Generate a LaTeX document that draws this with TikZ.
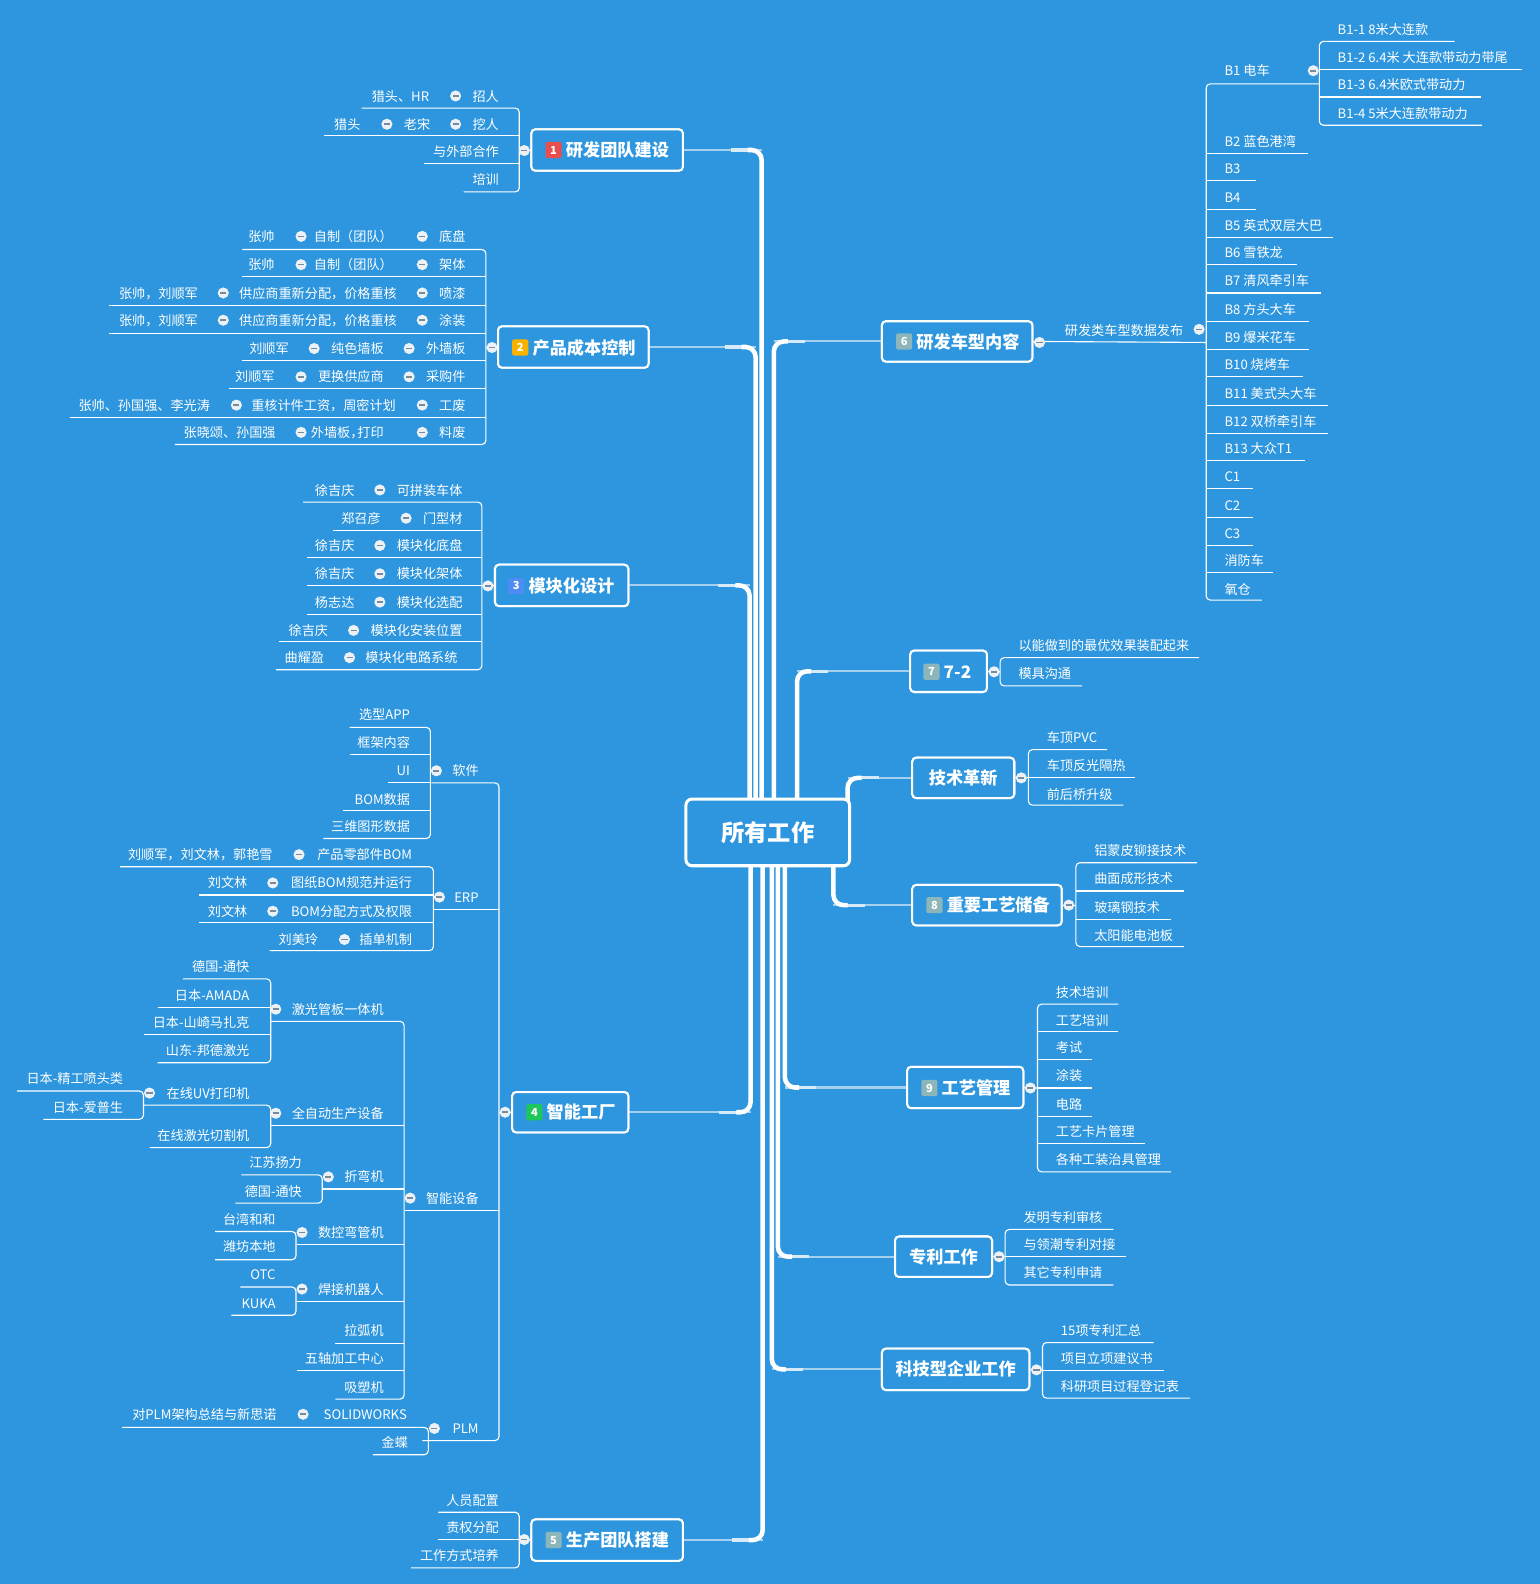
\documentclass[tikz,border=0pt]{standalone}
\usepackage{fontspec}
\setmainfont{Noto Sans CJK SC}
\usetikzlibrary{calc}
\definecolor{bg}{RGB}{46,150,222}
\definecolor{connlight}{RGB}{165,208,240}
\definecolor{clfill}{RGB}{236,241,246}
\definecolor{clminus}{RGB}{120,138,158}
\definecolor{bred}{RGB}{233,78,78}
\definecolor{borange}{RGB}{249,178,0}
\definecolor{bblue}{RGB}{77,140,245}
\definecolor{bgreen}{RGB}{31,199,90}
\definecolor{bgray}{RGB}{141,182,186}
\newcommand\leaffont{\fontsize{13}{15}\selectfont}
\newcommand\mainsz{\fontsize{17}{20}\selectfont\bfseries}
\newcommand\badgefont{\fontsize{11}{12}\selectfont\bfseries}
\newcounter{nd}
\newcommand\Ltx[3]{\stepcounter{nd}\node[lt] (t\arabic{nd}) at (#1,#2) {#3};}
\newcommand\Rtx[3]{\stepcounter{nd}\node[rt] (t\arabic{nd}) at (#1,#2) {#3};}
\newcommand\Col[2]{\stepcounter{nd}\node[clp] (c\arabic{nd}) at (#1,#2) {};}
\newcommand\Uln[3]{\draw[ul] (#1,#3) -- (#2,#3);}
\newcommand\Spn[5]{\draw[ul,rounded corners=4pt] (#1,#3) -- (#2,#3) -- (#2,#4) -- (#5,#4);}
\newcommand\mconn[3]{\draw[cthin] (#1) -- (#2 |- #1);
  \draw[cmid] ($(#2 |- #1)+(2.2*#3,0)$) -- ($(#2 |- #1)+(0.8*#3,0)$);
  \draw[cthick] ($(#2 |- #1)+(#3,0)$) -| (#2);}
\tikzset{
 lt/.style={anchor=east, inner sep=0pt, text height=11.5pt, text depth=1.5pt, font=\leaffont, text=white},
 rt/.style={lt, anchor=west},
 ul/.style={draw=white, line width=1.1pt},
 clp/.style={circle, fill=clfill, minimum size=11pt, inner sep=0pt,
   path picture={\draw[draw=clminus, line width=1.6pt] ([xshift=-3pt]path picture bounding box.center) -- ([xshift=3pt]path picture bounding box.center);}},
 mbox/.style={draw=white, line width=2pt, rounded corners=4pt, fill=bg, inner sep=0pt},
 mtext/.style={anchor=west, inner sep=0pt, font=\mainsz, text=white},
 ctext/.style={inner sep=0pt, font=\mainsz, text=white},
 badge/.style={rounded corners=2pt, minimum size=16pt, inner sep=0pt, text=white, font=\badgefont},
 cthin/.style={draw=connlight, line width=2pt},
 cmid/.style={draw=white!55!connlight, line width=3.2pt},
 cthick/.style={draw=white, line width=4.5pt, rounded corners=10pt},
}
\begin{document}
\begin{tikzpicture}[x=1pt,y=-1pt]
\fill[bg] (0,0) rectangle (1524,1568);
\useasboundingbox (0,0) rectangle (1524,1568);

% ---------- vertical anchors of main connectors ----------
\coordinate (v1) at (754,791);
\coordinate (v2) at (748,791);
\coordinate (v3) at (742,791);
\coordinate (v4) at (743,857);
\coordinate (v5) at (755,857);
\coordinate (v6) at (766,791);
\coordinate (v7) at (789,791);
\coordinate (vt) at (839,800);
\coordinate (v8) at (825,857);
\coordinate (v9) at (777,857);
\coordinate (vp) at (770,857);
\coordinate (vk) at (764,857);

% ---------- main boxes ----------
\node[mbox, minimum width=150pt, minimum height=41pt] (n1) at (601,148.5) {};
\node[mbox, minimum width=149pt, minimum height=41pt] (n2) at (567.5,343.5) {};
\node[mbox, minimum width=132pt, minimum height=41pt] (n3) at (556,579.5) {};
\node[mbox, minimum width=115pt, minimum height=40pt] (n4) at (564.5,1101) {};
\node[mbox, minimum width=150pt, minimum height=41pt] (n5) at (601,1524.5) {};
\node[mbox, minimum width=149pt, minimum height=40pt] (n6) at (947.5,338) {};
\node[mbox, minimum width=76pt, minimum height=41pt] (n7) at (939,664.5) {};
\node[mbox, minimum width=101pt, minimum height=40pt] (nt) at (953.5,770) {};
\node[mbox, minimum width=148pt, minimum height=40pt] (n8) at (977,896) {};
\node[mbox, minimum width=115pt, minimum height=41pt] (n9) at (955.5,1076.5) {};
\node[mbox, minimum width=96pt, minimum height=40pt] (np) at (934,1244) {};
\node[mbox, minimum width=146pt, minimum height=41pt] (nk) at (946,1355.5) {};

% ---------- main connectors ----------
\mconn{n1.east}{v1}{-14}
\mconn{n2.east}{v2}{-14}
\mconn{n3.east}{v3}{-14}
\mconn{n4.east}{v4}{-14}
\mconn{n5.east}{v5}{-14}
\mconn{n6.west}{v6}{14}
\mconn{n7.west}{v7}{14}
\mconn{nt.west}{vt}{14}
\mconn{n8.west}{v8}{14}
\mconn{n9.west}{v9}{14}
\mconn{np.west}{vp}{14}
\mconn{nk.west}{vk}{14}

% redraw main boxes on top
\node[mbox, minimum width=150pt, minimum height=41pt] at (n1) {};
\node[mbox, minimum width=149pt, minimum height=41pt] at (n2) {};
\node[mbox, minimum width=132pt, minimum height=41pt] at (n3) {};
\node[mbox, minimum width=115pt, minimum height=40pt] at (n4) {};
\node[mbox, minimum width=150pt, minimum height=41pt] at (n5) {};
\node[mbox, minimum width=149pt, minimum height=40pt] at (n6) {};
\node[mbox, minimum width=76pt, minimum height=41pt] at (n7) {};
\node[mbox, minimum width=101pt, minimum height=40pt] at (nt) {};
\node[mbox, minimum width=148pt, minimum height=40pt] at (n8) {};
\node[mbox, minimum width=115pt, minimum height=41pt] at (n9) {};
\node[mbox, minimum width=96pt, minimum height=40pt] at (np) {};
\node[mbox, minimum width=146pt, minimum height=41pt] at (nk) {};

% central node
\node[draw=white, line width=3pt, rounded corners=6pt, fill=bg, minimum width=162pt, minimum height=66pt, inner sep=0pt, font=\fontsize{23}{26}\selectfont\bfseries, text=white] (cen) at (760,824) {所有工作};

% badges and main texts
\node[badge, fill=bred] (b1) at (548,148.5) {1};
\node[mtext] (m1) at (560,148.5) {研发团队建设};
\node[badge, fill=borange] (b2) at (515,344) {2};
\node[mtext] (m2) at (527,344) {产品成本控制};
\node[badge, fill=bblue] (b3) at (511,580) {3};
\node[mtext] (m3) at (523,580) {模块化设计};
\node[badge, fill=bgreen] (b4) at (529,1101) {4};
\node[mtext] (m4) at (541,1101) {智能工厂};
\node[badge, fill=bgray] (b5) at (548,1524.5) {5};
\node[mtext] (m5) at (560,1524.5) {生产团队搭建};
\node[badge, fill=bgray] (b6) at (895,338) {6};
\node[mtext] (m6) at (907,338) {研发车型内容};
\node[badge, fill=bgray] (b7) at (922,665) {7};
\node[mtext] (m7) at (934,665) {7-2};
\node[ctext] (mt) at (nt) {技术革新};
\node[badge, fill=bgray] (b8) at (925,896) {8};
\node[mtext] (m8) at (937,896) {重要工艺储备};
\node[badge, fill=bgray] (b9) at (920,1077) {9};
\node[mtext] (m9) at (932,1077) {工艺管理};
\node[ctext] (mp) at (np) {专利工作};
\node[ctext] (mk) at (nk) {科技型企业工作};

% ================= LEFT: 1 =================
\Spn{358}{514}{107}{190}{459}
\Uln{321}{514}{134}
\Uln{420}{514}{162}
\draw[ul] (514,149) -- (n1.west);
\Ltx{425}{95}{猎头、HR} \Col{451}{95} \Ltx{494}{95}{招人}
\Ltx{357}{123}{猎头} \Col{383}{123} \Ltx{426}{123}{老宋} \Col{451}{123} \Ltx{494}{123}{挖人}
\Ltx{494}{150}{与外部合作}
\Ltx{494}{178}{培训}
\Col{519}{149}

% ================= LEFT: 2 =================
\Spn{240}{481}{247}{440}{173}
\Uln{240}{481}{274}
\Uln{108}{481}{302}
\Uln{108}{481}{330}
\Uln{240}{481}{357}
\Uln{227}{481}{385}
\Uln{69}{481}{413}
\draw[ul] (481,344) -- (n2.west);
\Ltx{272}{234}{张帅} \Col{298}{234} \Ltx{389}{234}{自制（团队）} \Col{418}{234} \Ltx{461}{234}{底盘}
\Ltx{272}{262}{张帅} \Col{298}{262} \Ltx{389}{262}{自制（团队）} \Col{418}{262} \Ltx{461}{262}{架体}
\Ltx{196}{290}{张帅，刘顺军} \Col{221}{290} \Ltx{393}{290}{供应商重新分配，价格重核} \Col{418}{290} \Ltx{461}{290}{喷漆}
\Ltx{196}{317}{张帅，刘顺军} \Col{221}{317} \Ltx{393}{317}{供应商重新分配，价格重核} \Col{418}{317} \Ltx{461}{317}{涂装}
\Ltx{286}{345}{刘顺军} \Col{311}{345} \Ltx{380}{345}{纯色墙板} \Col{405}{345} \Ltx{461}{345}{外墙板}
\Ltx{272}{373}{刘顺军} \Col{298}{373} \Ltx{380}{373}{更换供应商} \Col{405}{373} \Ltx{461}{373}{采购件}
\Ltx{208}{401}{张帅、孙国强、李光涛} \Col{234}{401} \Ltx{392}{401}{重核计件工资，周密计划} \Col{418}{401} \Ltx{461}{401}{工废}
\Ltx{273}{428}{张晓颂、孙国强} \Col{298}{428} \Ltx{380}{428}{外墙板，\kern-6pt 打印} \Col{418}{428} \Ltx{461}{428}{料废}
\Col{487}{344}

% ================= LEFT: 3 =================
\Spn{300}{477}{497}{663}{273}
\Uln{330}{477}{525}
\Uln{304}{477}{552}
\Uln{304}{477}{580}
\Uln{304}{477}{608}
\Uln{276}{477}{635}
\draw[ul] (477,580) -- (n3.west);
\Ltx{351}{485}{徐吉庆} \Col{376}{485} \Ltx{458}{485}{可拼装车体}
\Ltx{377}{513}{郑召彦} \Col{402}{513} \Ltx{458}{513}{门型材}
\Ltx{351}{540}{徐吉庆} \Col{376}{540} \Ltx{458}{540}{模块化底盘}
\Ltx{351}{568}{徐吉庆} \Col{376}{568} \Ltx{458}{568}{模块化架体}
\Ltx{351}{596}{杨志达} \Col{376}{596} \Ltx{458}{596}{模块化选配}
\Ltx{325}{624}{徐吉庆} \Col{350}{624} \Ltx{458}{624}{模块化安装位置}
\Ltx{321}{651}{曲耀盈} \Col{346}{651} \Ltx{453}{651}{模块化电路系统}
\Col{483}{580}

% ================= LEFT: 4 =================
\Spn{427}{494}{775}{1426}{418}
\Uln{430}{494}{900}
\Uln{401}{494}{1198}
\draw[ul] (494,1101) -- (n4.west);
\Ltx{474}{763}{软件} \Ltx{474}{888}{ERP} \Ltx{474}{1186}{智能设备} \Ltx{474}{1414}{PLM}
% software
\Spn{346}{426}{720}{830}{320}
\Uln{346}{426}{747}
\Uln{384}{426}{775}
\Uln{340}{426}{802}
\Ltx{406}{707}{选型APP} \Ltx{406}{735}{框架内容} \Ltx{406}{763}{UI} \Ltx{406}{791}{BOM数据} \Ltx{406}{818}{三维图形数据}
% ERP
\Spn{119}{429}{858}{941}{267}
\Uln{197}{429}{886}
\Uln{197}{429}{913}
\Ltx{270}{846}{刘顺军，刘文林，郭艳雪} \Col{296}{846} \Ltx{408}{846}{产品零部件BOM}
\Ltx{245}{874}{刘文林} \Col{270}{874} \Ltx{408}{874}{图纸BOM规范并运行}
\Ltx{245}{902}{刘文林} \Col{270}{902} \Ltx{408}{902}{BOM分配方式及权限}
\Ltx{315}{930}{刘美玲} \Col{341}{930} \Ltx{408}{930}{插单机制}
% smart equipment
\Spn{268}{400}{1011}{1385}{332}
\Uln{268}{400}{1114}
\Uln{320}{400}{1177}
\Uln{294}{400}{1232}
\Uln{294}{400}{1288}
\Uln{332}{400}{1330}
\Uln{294}{400}{1357}
\Ltx{380}{999}{激光管板一体机}
\Ltx{380}{1102}{全自动生产设备}
\Ltx{380}{1165}{折弯机}
\Ltx{380}{1220}{数控弯管机}
\Ltx{380}{1276}{焊接机器人}
\Ltx{380}{1317}{拉弧机}
\Ltx{380}{1345}{五轴加工中心}
\Ltx{380}{1373}{吸塑机}
% laser
\Spn{181}{268}{969}{1052}{156}
\Uln{156}{268}{997}
\Uln{143}{268}{1024}
\Ltx{247}{957}{德国-通快} \Ltx{247}{985}{日本-AMADA} \Ltx{247}{1012}{日本-山崎马扎克} \Ltx{247}{1040}{山东-邦德激光}
% automatic
\Spn{142}{268}{1094}{1136}{148}
\Ltx{247}{1082}{在线UV打印机} \Ltx{247}{1124}{在线激光切割机}
\Spn{17}{142}{1080}{1108}{43}
\Ltx{122}{1068}{日本-精工喷头类} \Ltx{122}{1096}{日本-爱普生}
% bending
\Spn{239}{319}{1163}{1191}{233}
\Ltx{299}{1151}{江苏扬力} \Ltx{299}{1179}{德国-通快}
\Spn{213}{293}{1219}{1247}{213}
\Ltx{273}{1207}{台湾和和} \Ltx{273}{1234}{潍坊本地}
\Spn{238}{293}{1274}{1302}{229}
\Ltx{273}{1262}{OTC} \Ltx{273}{1290}{KUKA}
% PLM
\Spn{121}{424}{1413}{1440}{369}
\Ltx{274}{1400}{对PLM架构总结与新思诺} \Col{300}{1400} \Ltx{403}{1400}{SOLIDWORKS}
\Ltx{404}{1428}{金蝶}
% collapse circles group 4
\Col{432}{763} \Col{435}{888} \Col{406}{1186} \Col{430}{1414}
\Col{273}{999} \Col{273}{1102} \Col{148}{1082} \Col{325}{1165} \Col{299}{1220} \Col{299}{1276}
\Col{500}{1101}

% ================= LEFT: 5 =================
\Spn{434}{514}{1497}{1552}{407}
\Uln{434}{514}{1524}
\draw[ul] (514,1524) -- (n5.west);
\Ltx{494}{1485}{人员配置} \Ltx{494}{1512}{责权分配} \Ltx{494}{1540}{工作方式培养}
\Col{519}{1524}

% ================= RIGHT: 6 =================
\draw[ul] (n6.east) -- (1194,339);
\Rtx{1054}{327}{研发类车型数据发布}
\Spn{1306}{1194}{83}{594}{1249}
\Uln{1194}{1295}{152}
\Uln{1194}{1243}{179}
\Uln{1194}{1243}{207}
\Uln{1194}{1320}{235}
\Uln{1194}{1284}{262}
\Uln{1194}{1308}{290}
\Uln{1194}{1296}{318}
\Uln{1194}{1296}{346}
\Uln{1194}{1290}{373}
\Uln{1194}{1315}{401}
\Uln{1194}{1315}{429}
\Uln{1194}{1292}{456}
\Uln{1194}{1240}{484}
\Uln{1194}{1240}{512}
\Uln{1194}{1240}{540}
\Uln{1194}{1260}{567}
\Rtx{1212}{70}{B1 电车}
\Rtx{1212}{140}{B2 蓝色港湾}
\Rtx{1212}{167}{B3}
\Rtx{1212}{195}{B4}
\Rtx{1212}{223}{B5 英式双层大巴}
\Rtx{1212}{250}{B6 雪铁龙}
\Rtx{1212}{278}{B7 清风牵引车}
\Rtx{1212}{306}{B8 方头大车}
\Rtx{1212}{334}{B9 爆米花车}
\Rtx{1212}{361}{B10 烧烤车}
\Rtx{1212}{389}{B11 美式头大车}
\Rtx{1212}{417}{B12 双桥牵引车}
\Rtx{1212}{444}{B13 大众T1}
\Rtx{1212}{472}{C1}
\Rtx{1212}{500}{C2}
\Rtx{1212}{528}{C3}
\Rtx{1212}{555}{消防车}
\Rtx{1212}{583}{氧仓}
\Spn{1440}{1306}{41}{124}{1467}
\Uln{1306}{1507}{69}
\Uln{1306}{1466}{96}
\Rtx{1324}{29}{B1-1 8米大连款}
\Rtx{1324}{57}{B1-2 6.4米 大连款带动力带尾}
\Rtx{1324}{84}{B1-3 6.4米欧式带动力}
\Rtx{1324}{112}{B1-4 5米大连款带动力}
\Col{1029}{339} \Col{1187}{326} \Col{1300}{70}

% ================= RIGHT: 7 =================
\Spn{1187}{990}{651}{679}{1071}
\draw[ul] (n7.east) -- (990,665);
\Rtx{1008}{639}{以能做到的最优效果装配起来}
\Rtx{1008}{667}{模具沟通}
\Col{984}{665}

% ================= RIGHT: tech =================
\Spn{1096}{1018}{742}{797}{1112}
\Uln{1018}{1124}{770}
\draw[ul] (nt.east) -- (1018,770);
\Rtx{1036}{730}{车顶PVC} \Rtx{1036}{758}{车顶反光隔热} \Rtx{1036}{786}{前后桥升级}
\Col{1011}{770}

% ================= RIGHT: 8 =================
\Spn{1185}{1065}{854}{937}{1172}
\Uln{1065}{1172}{882}
\Uln{1065}{1159}{910}
\draw[ul] (n8.east) -- (1065,896);
\Rtx{1083}{842}{铝蒙皮铆接技术} \Rtx{1083}{870}{曲面成形技术} \Rtx{1083}{898}{玻璃钢技术} \Rtx{1083}{926}{太阳能电池板}
\Col{1058}{896}

% ================= RIGHT: 9 =================
\Spn{1107}{1027}{994}{1160}{1159}
\Uln{1027}{1107}{1021}
\Uln{1027}{1081}{1049}
\Uln{1027}{1081}{1077}
\Uln{1027}{1081}{1105}
\Uln{1027}{1133}{1132}
\draw[ul] (n9.east) -- (1027,1077);
\Rtx{1045}{982}{技术培训} \Rtx{1045}{1010}{工艺培训} \Rtx{1045}{1037}{考试} \Rtx{1045}{1065}{涂装}
\Rtx{1045}{1093}{电路} \Rtx{1045}{1120}{工艺卡片管理} \Rtx{1045}{1148}{各种工装治具管理}
\Col{1020}{1077}

% ================= RIGHT: patents =================
\Spn{1102}{995}{1217}{1272}{1102}
\Uln{995}{1115}{1244}
\draw[ul] (np.east) -- (995,1244);
\Rtx{1013}{1205}{发明专利审核} \Rtx{1013}{1232}{与领潮专利对接} \Rtx{1013}{1260}{其它专利申请}
\Col{989}{1244}

% ================= RIGHT: tech company =================
\Spn{1142}{1032}{1329}{1384}{1178}
\Uln{1032}{1152}{1357}
\draw[ul] (nk.east) -- (1032,1356);
\Rtx{1050}{1317}{15项专利汇总} \Rtx{1050}{1345}{项目立项建议书} \Rtx{1050}{1372}{科研项目过程登记表}
\Col{1026}{1356}
\end{tikzpicture}
\end{document}
